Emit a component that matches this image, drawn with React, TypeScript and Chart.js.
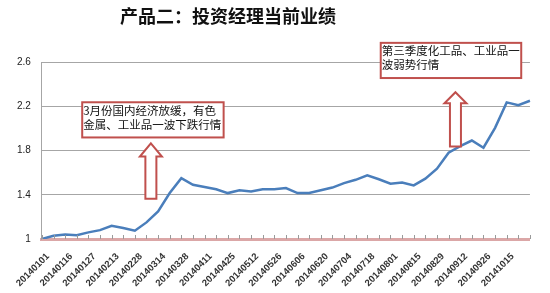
import React, { useEffect, useRef } from "react";
import { Chart, registerables } from "chart.js";

Chart.register(...registerables);

const TITLE = "产品二：投资经理当前业绩";
const dateLabels = [
  "20140101", "20140116", "20140127", "20140213", "20140228", "20140314", "20140328",
  "20140411", "20140425", "20140512", "20140526", "20140606", "20140620", "20140704",
  "20140718", "20140801", "20140815", "20140829", "20140912", "20140926", "20141015",
];
const values = [
  1.0, 1.03, 1.04, 1.035, 1.06, 1.08, 1.12, 1.1, 1.075, 1.15, 1.25, 1.415, 1.55, 1.49,
  1.47, 1.45, 1.415, 1.44, 1.43, 1.45, 1.45, 1.46, 1.415, 1.415, 1.44, 1.465, 1.505,
  1.535, 1.575, 1.54, 1.5, 1.51, 1.485, 1.545, 1.635, 1.78, 1.84, 1.89, 1.825, 2.005,
  2.235, 2.21, 2.25,
];
const yTicks = [1, 1.4, 1.8, 2.2, 2.6];

// annotations in data units: [x index from, x index to, y top, y bottom]
const note1Lines = ["3月份国内经济放缓，有色", "金属、工业品一波下跌行情"];
const note1Box = [3.47, 15.64, 2.236, 1.918];
const arrow1 = { x: 9.38, tip: 1.864, base: 1.745, bottom: 1.364 };
const note2Lines = ["第三季度化工品、工业品一", "波弱势行情"];
const note2Box = [29.16, 41.25, 2.773, 2.455];
const arrow2 = { x: 35.59, tip: 2.327, base: 2.227, bottom: 1.836 };

const categories = values.map((_, i) => (i % 2 === 0 ? dateLabels[i / 2] ?? "" : ""));

const decor = {
  id: "decor",
  afterDraw(chart: any) {
    const ctx = chart.ctx;
    const xs = chart.scales.x;
    const ys = chart.scales.y;
    const area = chart.chartArea;
    ctx.save();
    // inside tick marks
    ctx.strokeStyle = "#9a9a9a";
    ctx.lineWidth = 1;
    for (let i = 0; i < values.length; i++) {
      const px = Math.round(xs.getPixelForValue(i)) + 0.5;
      ctx.beginPath();
      ctx.moveTo(px, area.bottom - 4);
      ctx.lineTo(px, area.bottom);
      ctx.stroke();
    }
    // title
    ctx.fillStyle = "#111";
    ctx.font = "bold 18px 'Noto Sans CJK SC'";
    ctx.textAlign = "center";
    ctx.textBaseline = "middle";
    ctx.fillText(TITLE, 228, 16);

    const drawBox = (box: number[], lines: string[]) => {
      const x1 = xs.getPixelForValue(box[0]);
      const x2 = xs.getPixelForValue(box[1]);
      const y1 = ys.getPixelForValue(box[2]);
      const y2 = ys.getPixelForValue(box[3]);
      ctx.fillStyle = "#fff";
      ctx.fillRect(x1, y1, x2 - x1, y2 - y1);
      ctx.strokeStyle = "#c0504d";
      ctx.lineWidth = 2;
      ctx.strokeRect(x1, y1, x2 - x1, y2 - y1);
      ctx.fillStyle = "#111";
      ctx.font = "11.5px 'Noto Sans CJK SC'";
      ctx.textAlign = "left";
      ctx.textBaseline = "middle";
      lines.forEach((t, k) => ctx.fillText(t, x1 + 1, y1 + 8 + k * 14));
    };
    const drawArrow = (a: any) => {
      const cx = xs.getPixelForValue(a.x);
      const tip = ys.getPixelForValue(a.tip);
      const base = ys.getPixelForValue(a.base);
      const bot = ys.getPixelForValue(a.bottom);
      const hw = 11;
      const sw = 5.5;
      ctx.beginPath();
      ctx.moveTo(cx, tip);
      ctx.lineTo(cx + hw, base);
      ctx.lineTo(cx + sw, base);
      ctx.lineTo(cx + sw, bot);
      ctx.lineTo(cx - sw, bot);
      ctx.lineTo(cx - sw, base);
      ctx.lineTo(cx - hw, base);
      ctx.closePath();
      ctx.fillStyle = "#fff";
      ctx.fill();
      ctx.strokeStyle = "#c0504d";
      ctx.lineWidth = 2;
      ctx.stroke();
    };
    drawBox(note1Box, note1Lines);
    drawArrow(arrow1);
    drawBox(note2Box, note2Lines);
    drawArrow(arrow2);
    ctx.restore();
  },
};

export default function App() {
  const ref = useRef<HTMLCanvasElement>(null);
  useEffect(() => {
    if (!ref.current) return;
    const chart = new Chart(ref.current, {
      type: "line",
      data: {
        labels: categories,
        datasets: [
          {
            data: values,
            borderColor: "#4a7ebb",
            borderWidth: 2.5,
            pointRadius: 0,
            tension: 0,
            fill: false,
          },
        ],
      },
      options: {
        animation: false,
        responsive: false,
        maintainAspectRatio: false,
        layout: { padding: { top: 62, right: 12, left: 0, bottom: 0 } },
        plugins: { legend: { display: false }, tooltip: { enabled: false }, title: { display: false } },
        scales: {
          x: {
            type: "category",
            offset: false,
            afterFit: (s: any) => {
              s.height = 54;
            },
            grid: { display: false, drawTicks: false },
            border: { display: true, color: "#dba7a7", width: 3 },
            ticks: {
              autoSkip: false,
              maxRotation: 45,
              minRotation: 45,
              padding: 12,
              labelOffset: 6,
              color: "#333",
              font: { family: "'Liberation Sans', Arial", size: 9.5, weight: "bold" },
            },
          },
          y: {
            min: 1,
            max: 2.6,
            afterFit: (s: any) => {
              s.width = 37;
            },
            afterBuildTicks: (s: any) => {
              s.ticks = yTicks.map((v) => ({ value: v }));
            },
            grid: { color: "#a6a6a6", lineWidth: 1, drawTicks: false },
            border: { display: true, color: "#a6a6a6", width: 1 },
            ticks: {
              padding: 11,
              color: "#222",
              font: { family: "'Liberation Sans', Arial", size: 10 },
              callback: (v: any) => String(Math.round(Number(v) * 10) / 10),
            },
          },
        },
      },
      plugins: [decor],
    });
    return () => chart.destroy();
  }, []);
  return (
    <div style={{ position: "fixed", left: 0, top: 0, width: 550, height: 293, background: "#fff" }}>
      <canvas ref={ref} width={550} height={293} style={{ width: 550, height: 293 }} />
    </div>
  );
}
